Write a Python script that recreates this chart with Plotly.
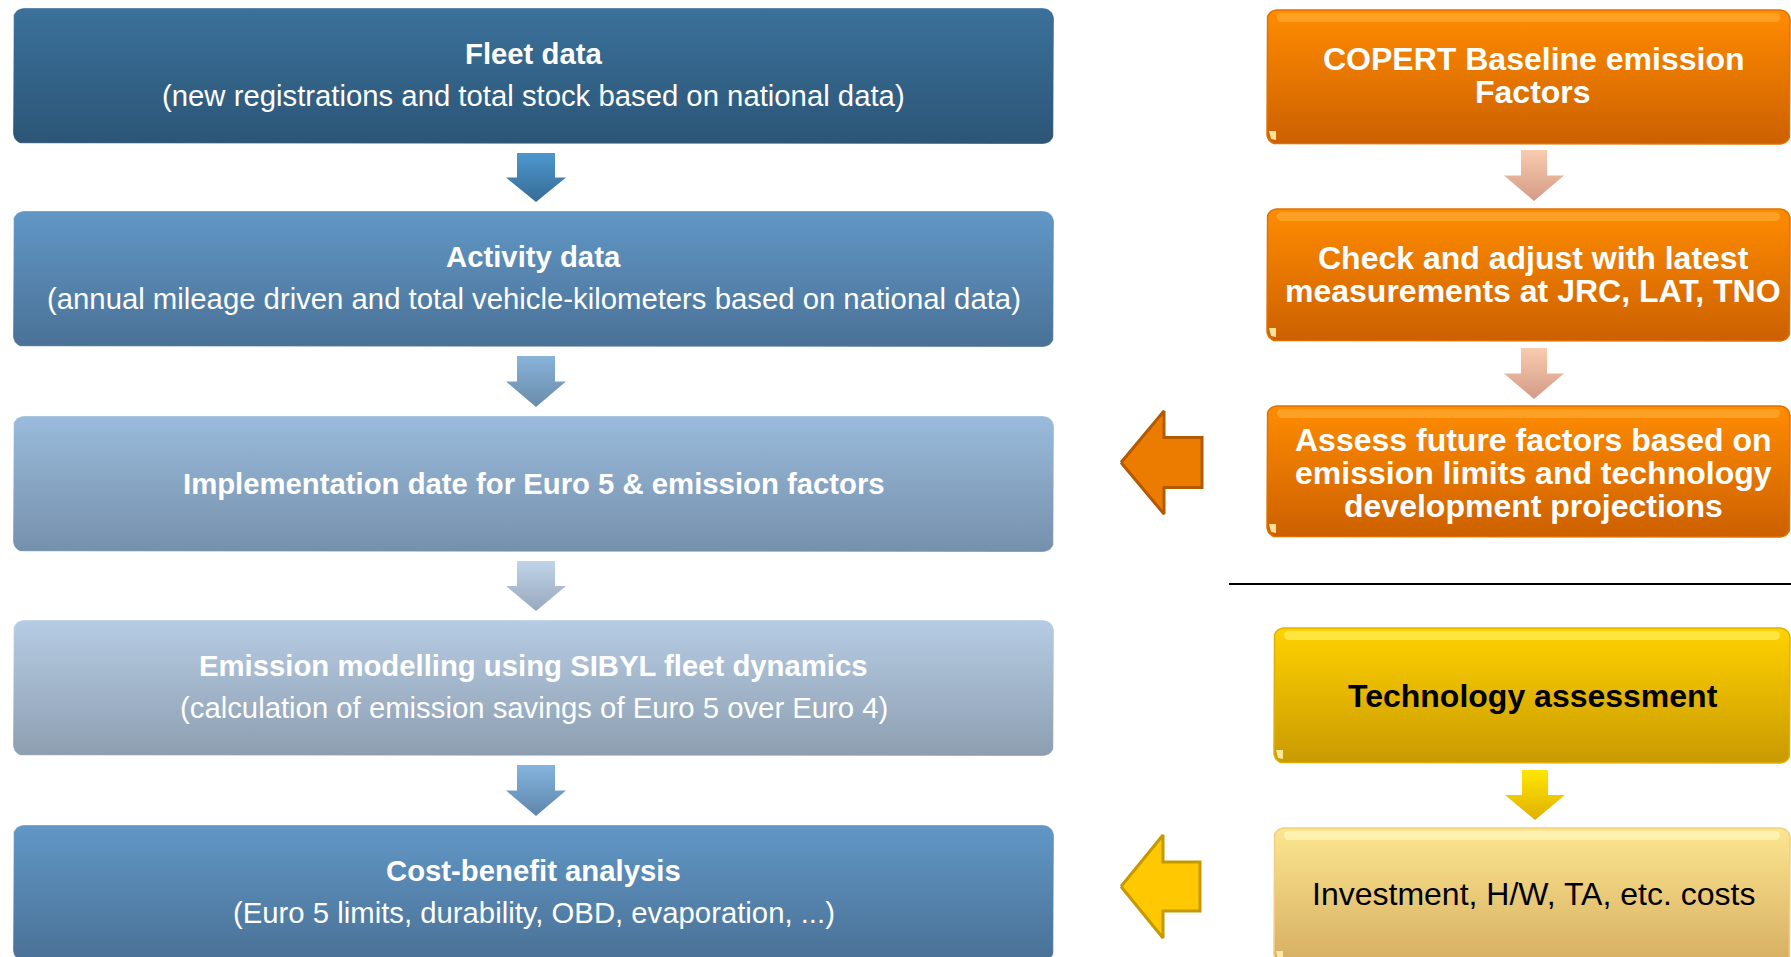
import numpy as np
import plotly.graph_objects as go

W, H = 1791, 957

# ---------------- text content ----------------
left_titles = [
    "Fleet data",
    "Activity data",
    "Implementation date for Euro 5 & emission factors",
    "Emission modelling using SIBYL fleet dynamics",
    "Cost-benefit analysis",
]
left_subtitles = [
    "(new registrations and total stock based on national data)",
    "(annual mileage driven and total vehicle-kilometers based on national data)",
    "",
    "(calculation of emission savings of Euro 5 over Euro 4)",
    "(Euro 5 limits, durability, OBD, evaporation, ...)",
]
right_lines = [
    ["COPERT Baseline emission", "Factors"],
    ["Check and adjust with latest", "measurements at JRC, LAT, TNO"],
    ["Assess future factors based on", "emission limits and technology", "development projections"],
    ["Technology assessment"],
    ["Investment, H/W, TA, etc. costs"],
]
right_bold = [True, True, True, True, False]
right_text_colors = ["white", "white", "white", "black", "black"]

# ---------------- layout / style ----------------
FONT = "Arial, Liberation Sans, sans-serif"
L_X0, L_X1 = 13, 1054
L_TOPS = [8, 211, 416, 620, 825]
L_H = 136
L_TOP_C = ["#3B719B", "#6197C6", "#9ABBDC", "#B6CCE4", "#6197C6"]
L_BOT_C = ["#2C5576", "#4A7196", "#7590AB", "#8D9EB0", "#4A7196"]
L_ARROW_TOP_C = ["#4C97CE", "#88B3DA", "#C0D3E9", "#85B4DE"]
L_ARROW_BOT_C = ["#386C97", "#6A8BAA", "#98A9BC", "#5E86AC"]

R_BOXES = [  # x0, y0, y1
    (1267, 10, 144),
    (1267, 209, 341),
    (1267, 406, 537),
    (1274, 628, 763),
    (1274, 828, 964),
]
R_TOP_C = ["#FF8C00", "#FF8C00", "#FF8C00", "#FFD200", "#FCE690"]
R_BOT_C = ["#CC6000", "#CC6000", "#CC6000", "#C99A00", "#D6AE62"]
R_EDGE_C = ["#E07000", "#E07000", "#E07000", "#E0B000", "#F0D080"]
R_GLOSS_C = ["rgba(255,175,60,0.6)", "rgba(255,175,60,0.6)", "rgba(255,175,60,0.6)",
             "rgba(255,240,90,0.7)", "rgba(255,248,190,0.7)"]
R_LINE_Y = [[59, 92], [258, 291], [439.5, 472.5, 505.5], [696], [894]]

R_ARROWS = [(1534, 150, 201), (1534, 348, 399), (1535, 770, 820)]
R_ARROW_TOP_C = ["#F8CCAE", "#F8CCAE", "#FFE600"]
R_ARROW_BOT_C = ["#D49A88", "#D49A88", "#E0B000"]


def rrect(x0, y0, x1, y1, r):
    xs, ys = [], []
    corners = [(x1 - r, y0 + r, -90, 0), (x1 - r, y1 - r, 0, 90),
               (x0 + r, y1 - r, 90, 180), (x0 + r, y0 + r, 180, 270)]
    for cx, cy, a0, a1 in corners:
        t = np.radians(np.linspace(a0, a1, 10))
        xs += list(cx + r * np.cos(t))
        ys += list(cy + r * np.sin(t))
    xs.append(xs[0]); ys.append(ys[0])
    return xs, ys


def down_arrow(cx, y0, y1, shaft_w, head_w):
    ym = (y0 + y1) / 2
    xs = [cx - shaft_w / 2, cx + shaft_w / 2, cx + shaft_w / 2, cx + head_w / 2, cx,
          cx - head_w / 2, cx - shaft_w / 2, cx - shaft_w / 2]
    ys = [y0, y0, ym, ym, y1, ym, ym, y0]
    return xs, ys


def left_arrow(tip, base, tail, yc, head_h, shaft_h):
    xs = [tip, base, base, tail, tail, base, base, tip]
    ys = [yc, yc - head_h / 2, yc - shaft_h / 2, yc - shaft_h / 2,
          yc + shaft_h / 2, yc + shaft_h / 2, yc + head_h / 2, yc]
    return xs, ys


fig = go.Figure()


def add_poly(xs, ys, top_c, bot_c, y0, y1, line_c=None, line_w=0):
    fig.add_trace(go.Scatter(
        x=xs, y=ys, mode="lines", fill="toself",
        fillgradient=dict(type="vertical", colorscale=[[0, top_c], [1, bot_c]],
                          start=y0, stop=y1),
        line=dict(color=line_c or "rgba(0,0,0,0)", width=line_w),
        hoverinfo="skip", showlegend=False))


def add_flat(xs, ys, color, line_c=None, line_w=0):
    fig.add_trace(go.Scatter(
        x=xs, y=ys, mode="lines", fill="toself", fillcolor=color,
        line=dict(color=line_c or "rgba(0,0,0,0)", width=line_w),
        hoverinfo="skip", showlegend=False))


annotations = []


def text(x, y, s, size, color, bold):
    annotations.append(dict(
        x=x, y=y, xref="x", yref="y", text=f"<b>{s}</b>" if bold else s,
        showarrow=False, xanchor="center", yanchor="middle",
        font=dict(family=FONT, size=size, color=color)))


# ---- left column ----
lcx = (L_X0 + L_X1) / 2
for i, (title, sub) in enumerate(zip(left_titles, left_subtitles)):
    y0 = L_TOPS[i]
    y1 = y0 + L_H
    xs, ys = rrect(L_X0, y0, L_X1, y1, 11)
    add_poly(xs, ys, L_TOP_C[i], L_BOT_C[i], y0, y1, "rgba(255,255,255,0.35)", 1)
    if sub:
        text(lcx, y0 + 45, title, 29.3, "white", True)
        text(lcx, y0 + 87, sub, 29.3, "white", False)
    else:
        text(lcx, y0 + 67, title, 29.3, "white", True)

for i in range(len(L_TOPS) - 1):
    a0 = L_TOPS[i] + L_H + 9
    a1 = L_TOPS[i + 1] - 9
    xs, ys = down_arrow(536, a0, a1, 38, 60)
    add_poly(xs, ys, L_ARROW_TOP_C[i], L_ARROW_BOT_C[i], a0, a1)

# ---- right column ----
for i, (x0, y0, y1) in enumerate(R_BOXES):
    xs, ys = rrect(x0, y0, 1790, y1, 10)
    add_poly(xs, ys, R_TOP_C[i], R_BOT_C[i], y0, y1, R_EDGE_C[i], 1.5)
    # glossy highlight band
    gx, gy = rrect(x0 + 10, y0 + 3, 1780, y0 + 12, 4)
    add_flat(gx, gy, R_GLOSS_C[i])
    # small corner highlight
    add_flat([x0 + 2, x0 + 9, x0 + 9, x0 + 4, x0 + 2], [y1 - 13, y1 - 13, y1 - 4, y1 - 5, y1 - 13],
             "rgba(255,240,170,0.9)")
    for line, ly in zip(right_lines[i], R_LINE_Y[i]):
        text(1533, ly, line, 32, right_text_colors[i], right_bold[i])

for i, (cx, a0, a1) in enumerate(R_ARROWS):
    xs, ys = down_arrow(cx, a0, a1, 26, 60)
    add_poly(xs, ys, R_ARROW_TOP_C[i], R_ARROW_BOT_C[i], a0, a1)

# left-pointing arrows
xs, ys = left_arrow(1121, 1164, 1202, 462.5, 103, 50)
add_flat(xs, ys, "#EC7C00", "#B35A00", 3)
xs, ys = left_arrow(1121, 1163, 1200, 886.5, 103, 49)
add_flat(xs, ys, "#FFC800", "#C49A00", 3)

shapes = [dict(type="line", xref="x", yref="y", x0=1229, x1=1791, y0=584, y1=584,
               line=dict(color="black", width=2))]

fig.update_layout(
    width=W, height=H, margin=dict(l=0, r=0, t=0, b=0),
    paper_bgcolor="white", plot_bgcolor="white",
    xaxis=dict(range=[0, W], visible=False, fixedrange=True),
    yaxis=dict(range=[H, 0], visible=False, fixedrange=True),
    annotations=annotations, shapes=shapes, showlegend=False,
)

fig.write_html("out.html", config={"displayModeBar": False},
               post_script="document.body.style.margin='0';document.body.style.overflow='hidden';")
